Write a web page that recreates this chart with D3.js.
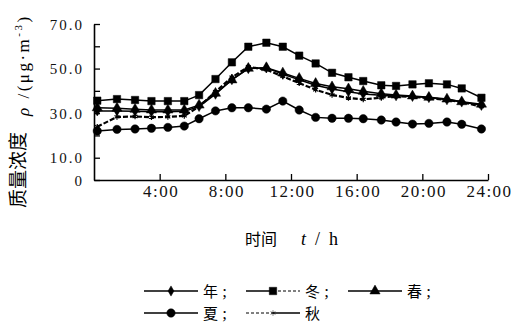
<!DOCTYPE html>
<html>
<head>
<meta charset="utf-8">
<script src="https://cdn.jsdelivr.net/npm/d3@7"></script>
<style>
  body { margin: 0; background: #fff; }
</style>
</head>
<body>
<div id="chart"></div>
<script>
// hour position of each hourly sample
const hours = [0.2, 1.4, 2.5, 3.5, 4.5, 5.5, 6.4, 7.4, 8.4, 9.4, 10.5, 11.5,
  12.5, 13.5, 14.5, 15.5, 16.4, 17.5, 18.4, 19.4, 20.4, 21.5, 22.4, 23.6];

const annual = [31.0, 31.0, 30.8, 30.6, 30.6, 30.8, 33.0, 38.5, 45.0, 50.0, 50.3, 47.5,
  45.0, 42.5, 40.8, 39.6, 38.6, 38.0, 37.8, 37.5, 37.0, 36.0, 35.0, 33.5];
const winter = [35.6, 36.3, 35.9, 35.4, 35.4, 35.4, 38.1, 45.3, 52.8, 59.8, 61.6, 59.8,
  55.8, 52.3, 48.1, 46.1, 44.4, 42.5, 42.2, 42.9, 43.4, 42.9, 41.1, 36.9];
const spring = [32.4, 32.2, 31.7, 31.4, 31.4, 31.4, 33.6, 38.9, 44.9, 50.1, 50.4, 48.0,
  45.6, 43.3, 41.8, 40.9, 39.8, 38.7, 38.1, 37.7, 37.1, 36.3, 35.1, 34.0];
const summer = [22.0, 22.7, 22.9, 23.2, 23.6, 24.2, 27.5, 31.0, 32.4, 32.4, 31.8, 35.4,
  31.4, 28.1, 27.7, 27.7, 27.5, 26.9, 26.0, 25.1, 25.4, 26.0, 25.0, 22.9];
const autumn = [23.9, 28.3, 28.5, 28.2, 28.3, 28.8, 32.9, 39.6, 46.1, 50.8, 49.5, 46.5,
  43.5, 40.5, 38.2, 36.8, 36.2, 36.9, 37.7, 37.3, 36.7, 35.9, 35.0, 32.9];

const xTicks = [4, 8, 12, 16, 20, 24];
const yTicks = [0, 10, 20, 30, 40, 50, 60, 70];
const yLabelled = [0, 10, 30, 50, 70];

const series = [
  { name: "秋", values: autumn, marker: "star", dash: "5,2" },
  { name: "年", values: annual, marker: "diamond", dash: null },
  { name: "春", values: spring, marker: "triangle", dash: null },
  { name: "冬", values: winter, marker: "square", dash: null },
  { name: "夏", values: summer, marker: "circle", dash: null },
];
const legendOrder = ["年", "冬", "春", "夏", "秋"];

const W = 520, H = 329;
const serif = "'Liberation Serif', 'Times New Roman', 'DejaVu Serif', serif";
const cjk = "'Noto Sans CJK SC', sans-serif";

const svg = d3.select("#chart").append("svg")
  .attr("width", W).attr("height", H)
  .style("font-family", serif);

const x = d3.scaleLinear().domain([0, 24]).range([94, 488]);
const y = d3.scaleLinear().domain([0, 70]).range([180, 24]);

const symbols = {
  diamond: d3.symbol().type(d3.symbolDiamond).size(30),
  square: d3.symbol().type(d3.symbolSquare).size(55),
  triangle: d3.symbol().type(d3.symbolTriangle).size(45),
  circle: d3.symbol().type(d3.symbolCircle).size(55),
  star: d3.symbol().type(d3.symbolAsterisk).size(22),
};

// axes
const xAxis = svg.append("g")
  .attr("transform", `translate(0,${y(0)})`)
  .call(d3.axisBottom(x).tickValues(xTicks).tickSizeInner(-6).tickSizeOuter(0)
    .tickFormat((d) => `${d}:00`));
xAxis.attr("font-family", null);
xAxis.select(".domain").attr("stroke-width", 1.6);
xAxis.selectAll(".tick line").attr("stroke-width", 1.3);
xAxis.selectAll(".tick text")
  .attr("y", 17).attr("dy", 0).attr("dx", 1)
  .style("font-size", "17px").style("letter-spacing", "1.5px")
  .style("font-family", serif).attr("fill", "#111");

const yAxis = svg.append("g")
  .attr("transform", `translate(${x(0)},0)`)
  .call(d3.axisLeft(y).tickValues(yTicks).tickSizeInner(-6).tickSizeOuter(0)
    .tickFormat((d) => (yLabelled.includes(d) ? (d === 0 ? "0" : d.toFixed(1)) : "")));
yAxis.attr("font-family", null);
yAxis.select(".domain").attr("stroke-width", 1.6);
yAxis.selectAll(".tick line").attr("stroke-width", 1.3);
yAxis.selectAll(".tick text")
  .attr("x", -10).attr("dy", "0.35em")
  .style("font-size", "15px").style("letter-spacing", "2px")
  .style("font-family", serif).attr("fill", "#111");

// lines
const line = d3.line().x((d, i) => x(hours[i])).y((d) => y(d));

const plot = svg.append("g");
series.forEach((s) => {
  plot.append("path")
    .datum(s.values)
    .attr("d", line)
    .attr("fill", "none")
    .attr("stroke", "#000")
    .attr("stroke-width", s.dash ? 2.2 : 1.5)
    .attr("stroke-dasharray", s.dash);
  plot.selectAll(null)
    .data(s.values)
    .enter()
    .append("path")
    .attr("transform", (d, i) => `translate(${x(hours[i])},${y(d)})`)
    .attr("d", symbols[s.marker]())
    .attr("fill", "#000")
    .attr("stroke", "#000")
    .attr("stroke-width", s.marker === "star" ? 1.2 : 0.5);
});

// axis titles
svg.append("text")
  .attr("transform", "translate(16,208) rotate(-90)")
  .attr("dominant-baseline", "central")
  .style("font-family", cjk)
  .style("font-size", "19px")
  .text("质量浓度");

const yt = svg.append("text")
  .attr("transform", "translate(29,116) rotate(-90)")
  .style("font-family", serif)
  .style("font-size", "17px")
  .style("letter-spacing", "2.5px");
yt.append("tspan").style("font-style", "italic").text("ρ");
yt.append("tspan").text(" /(μg·m");
yt.append("tspan").attr("dy", -7).style("font-size", "11px").text("-3");
yt.append("tspan").attr("dy", 7).text(")");

const xt = svg.append("text")
  .attr("x", 245).attr("y", 245)
  .style("font-family", serif)
  .style("font-size", "18px");
xt.append("tspan").style("font-family", cjk)
  .style("font-size", "16px").text("时间");
xt.append("tspan").attr("x", 301).style("font-style", "italic").text("t");
xt.append("tspan").attr("x", 315).text("/");
xt.append("tspan").attr("x", 329).text("h");

// legend
const legendPos = [[144, 296], [246, 296], [348, 296], [144, 318], [246, 318]];
const legendDash = { 冬: [null, "3,2"], 秋: ["3,2", null] };
const legend = svg.append("g");
legendOrder.forEach((name, k) => {
  const s = series.find((d) => d.name === name);
  const [lx, ly] = legendPos[k];
  const dash = legendDash[name] || [null, null];
  legend.append("line")
    .attr("x1", lx).attr("x2", lx + 27).attr("y1", ly - 5).attr("y2", ly - 5)
    .attr("stroke", "#000").attr("stroke-width", dash[0] ? 1 : 1.5)
    .attr("stroke-dasharray", dash[0]);
  legend.append("line")
    .attr("x1", lx + 27).attr("x2", lx + 54).attr("y1", ly - 5).attr("y2", ly - 5)
    .attr("stroke", "#000").attr("stroke-width", dash[1] ? 1 : 1.5)
    .attr("stroke-dasharray", dash[1]);
  legend.append("path")
    .attr("transform", `translate(${lx + 27},${ly - 5})`)
    .attr("d", symbols[s.marker]())
    .attr("fill", "#000").attr("stroke", "#000").attr("stroke-width", 0.5);
  const t = legend.append("text")
    .attr("x", lx + 59).attr("y", ly + 1)
    .style("font-family", cjk)
    .style("font-size", "15px")
    .text(name);
  if (k < legendOrder.length - 1) {
    t.append("tspan").style("font-family", serif).style("font-size", "17px").text(" ;");
  }
});
</script>
</body>
</html>
